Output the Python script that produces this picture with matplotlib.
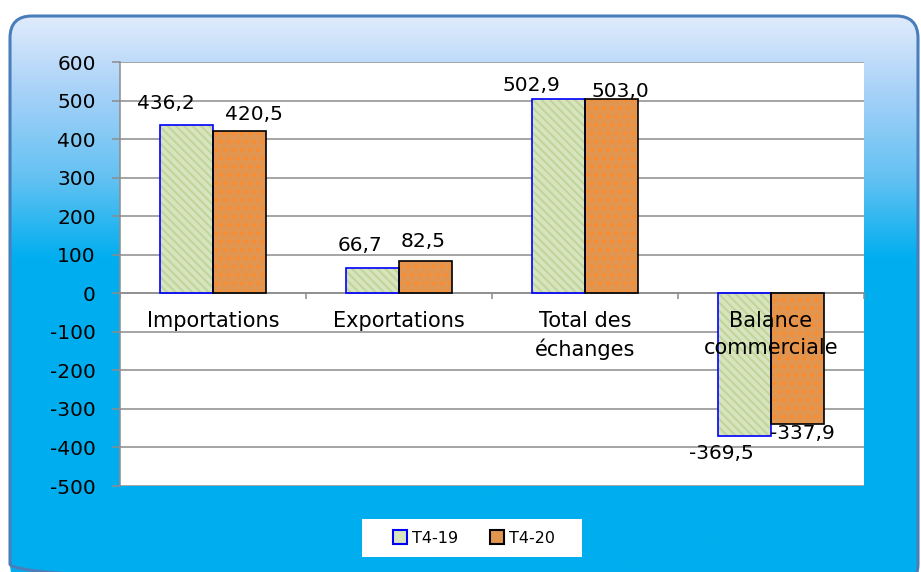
import numpy as np
import matplotlib
matplotlib.use('Agg')
import matplotlib.pyplot as plt
from matplotlib.patches import FancyBboxPatch, Rectangle, Patch
from matplotlib.colors import LinearSegmentedColormap

plt.rcParams['font.family'] = ['DejaVu Sans']
plt.rcParams['axes.unicode_minus'] = False
plt.rcParams['hatch.linewidth'] = 1.4

# données
categories = ['Importations', 'Exportations', 'Total des\néchanges', 'Balance\ncommerciale']
t4_19 = [436.2, 66.7, 502.9, -369.5]
t4_20 = [420.5, 82.5, 503.0, -337.9]
series_names = ['T4-19', 'T4-20']
y_ticks = list(range(-500, 601, 100))

# décalage des étiquettes (pixels) comme dans le graphique d'origine
off_19 = [(-21, 22), (-13, 22), (-27, 14), (-23, -18)]
off_20 = [(15, 17), (-2, 20), (9, 8), (5, -10)]

W, H = 921, 572
fig = plt.figure(figsize=(W / 100, H / 100), dpi=100)

# fond arrondi en dégradé
bg = fig.add_axes([0, 0, 1, 1], zorder=-10)
bg.set_xlim(0, W)
bg.set_ylim(H, 0)
bg.axis('off')
cmap = LinearSegmentedColormap.from_list(
    'fond', [(0, '#e1ebfc'), (0.13, '#a9d2f8'), (0.29, '#62c1f2'),
             (0.43, '#00aeef'), (1.0, '#00aeef')])
grad = np.linspace(0, 1, 256).reshape(-1, 1)
img = bg.imshow(grad, cmap=cmap, aspect='auto', extent=(0, W, 580, 15))
box = FancyBboxPatch((10, 16), 908, 570, boxstyle='round,pad=0,rounding_size=22',
                     fc='none', ec='#4a7ebb', lw=2.2, zorder=3)
bg.add_patch(box)
img.set_clip_path(box)
bg.add_patch(Rectangle((362, 519), 220, 38, fc='white', ec='none', zorder=4))

# zone de traçage
ax = fig.add_axes([120 / W, 1 - 486 / H, (864 - 120) / W, (486 - 62) / H])
ax.set_facecolor('white')
x = np.arange(len(categories))
w = 0.283

ax.bar(x - w / 2, t4_19, w, color='#d7e4bd', edgecolor='#c0d598', hatch='\\\\\\\\', lw=0, zorder=2)
ax.bar(x - w / 2, t4_19, w, fill=False, edgecolor='#0000ff', lw=1.2, zorder=3)
ax.bar(x + w / 2, t4_20, w, color='#e2954f', edgecolor='#ff8a2a', hatch='..', lw=0, zorder=2)
ax.bar(x + w / 2, t4_20, w, fill=False, edgecolor='black', lw=1.2, zorder=3)

for i in range(len(categories)):
    labels = ((x[i] - w / 2, t4_19[i], off_19[i]), (x[i] + w / 2, t4_20[i], off_20[i]))
    for xb, v, (dx, dy) in labels:
        ax.annotate(f"{v:.1f}".replace('.', ','), xy=(xb, v), xytext=(dx, dy),
                    textcoords='offset pixels', ha='center', va='center',
                    fontsize=14.5, zorder=6)
    ax.annotate(categories[i], xy=(x[i], 0), xytext=(0, -18), textcoords='offset pixels',
                ha='center', va='top', fontsize=15, linespacing=1.4, zorder=6)

ax.set_xlim(-0.5, len(categories) - 0.5)
ax.set_ylim(-500, 600)
ax.set_yticks(y_ticks)
ax.set_yticklabels([str(t) for t in y_ticks])
ax.set_xticks(np.arange(len(categories) + 1) - 0.5)
ax.set_xticklabels([])
ax.yaxis.grid(True, color='#8c8c8c', lw=1.1)
ax.set_axisbelow(True)
for s in ('top', 'right'):
    ax.spines[s].set_visible(False)
ax.spines['left'].set_color('#8c8c8c')
ax.spines['left'].set_linewidth(1.1)
ax.spines['bottom'].set_position(('data', 0))
ax.spines['bottom'].set_color('#8c8c8c')
ax.spines['bottom'].set_linewidth(1.1)
ax.tick_params(axis='y', length=5.5, color='#8c8c8c', width=1.1, labelsize=14.5, pad=12)
ax.tick_params(axis='x', length=4.5, color='#8c8c8c', width=1.1, direction='out')

handles = [Patch(fc='#d7e4bd', ec='#0000ff', lw=1.5), Patch(fc='#e2954f', ec='black', lw=1.5)]
fig.legend(handles, series_names, ncol=2, frameon=False, loc='center',
           bbox_to_anchor=(474 / W, 1 - 538 / H), fontsize=11.5,
           handlelength=0.9, handleheight=0.9, handletextpad=0.3, columnspacing=2.0)

fig.savefig('out.png', dpi=100)
